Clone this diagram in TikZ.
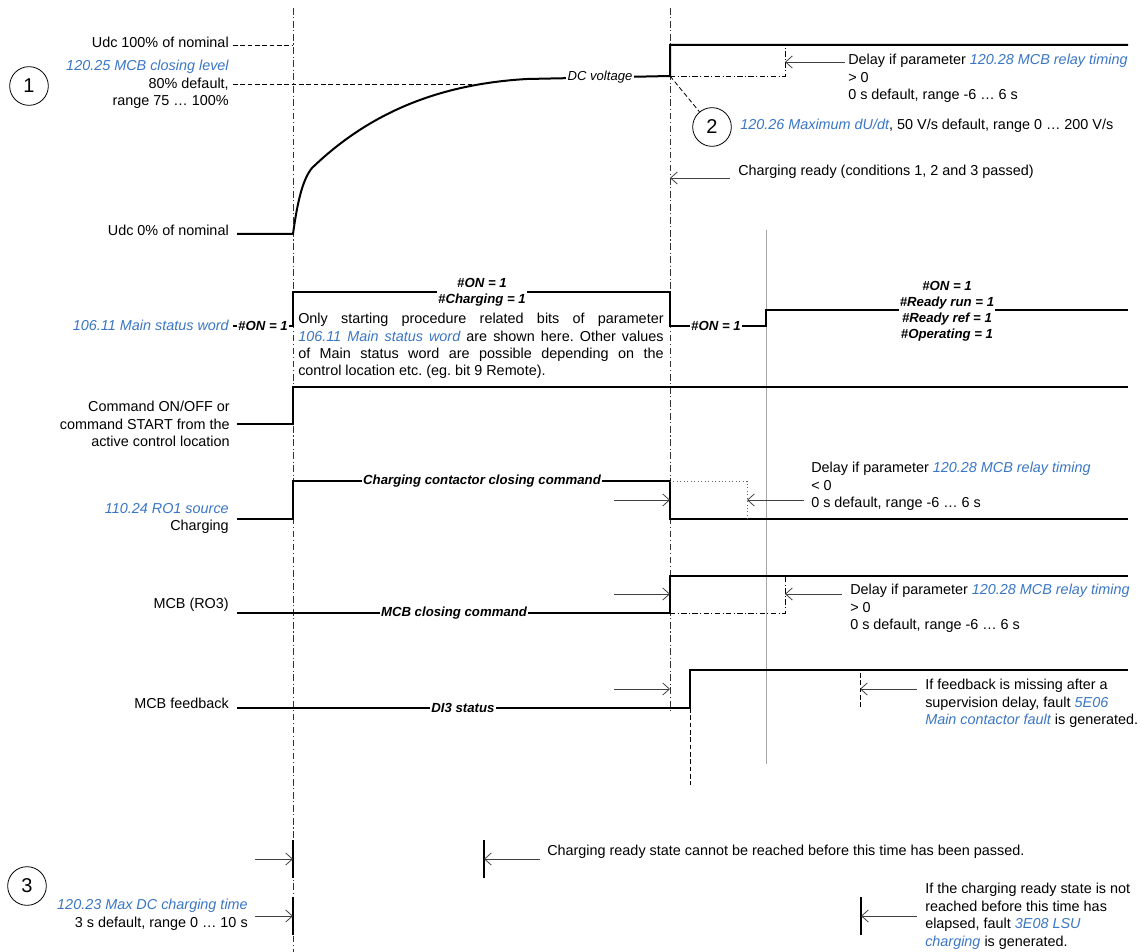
\documentclass[tikz,border=0pt]{standalone}
\usepackage{fontspec}
\setmainfont{Liberation Sans}
\usetikzlibrary{arrows.meta}
\definecolor{pblue}{RGB}{58,118,196}
\newcommand{\pb}[1]{\textcolor{pblue}{\itshape #1}}
\frenchspacing
\begin{document}
\begin{tikzpicture}[x=0.75pt,y=-0.75pt,
 txt/.style={font=\fontsize{10.8}{13.1}\selectfont, inner sep=0pt},
 lbl/.style={txt, align=right},
 bil/.style={font=\fontsize{9.9}{12}\selectfont\bfseries\itshape, fill=white, inner sep=1pt, align=center},
 bilnf/.style={font=\fontsize{9.9}{12}\selectfont\bfseries\itshape, inner sep=0pt},
 sig/.style={line width=1.5pt},
 vline/.style={line width=0.5pt, black!80, dash pattern=on 5pt off 2pt on 0.8pt off 2pt},
 dashline/.style={line width=0.6pt, dash pattern=on 3.5pt off 2pt},
 ddot/.style={line width=0.6pt, dash pattern=on 4pt off 1.8pt on 0.8pt off 1.8pt},
 arr/.style={line width=0.6pt, black!75, -{Straight Barb[length=5pt,width=9pt]}},
 tickl/.style={line width=0.9pt},
 num/.style={circle, draw, line width=0.6pt, minimum size=29pt, inner sep=0pt, font=\fontsize{15}{18}\selectfont}]
\useasboundingbox (0,0) rectangle (1141,952);
% reference lines
\coordinate (v1t) at (293,8); \coordinate (v1b) at (293,952);
\coordinate (v2t) at (670,8); \coordinate (v2b) at (670,710);
\draw[vline] (v1t) -- (v1b);
\draw[vline] (v2t) -- (v2b);
\coordinate (g1) at (766,230); \coordinate (g2) at (766,764);
\draw[black!35, line width=0.5pt] (g1) -- (g2);
\coordinate (f1) at (690,708); \coordinate (f2) at (690,785);
\draw[dashline] (f1) -- (f2);
% DC voltage
\node[txt, anchor=east] (u100) at (229,42) {Udc 100\% of nominal};
\draw[dashline] (233,45) -- (293,45);
\node[lbl, anchor=north east] (mcbl) at (229,60) {\pb{120.25 MCB closing level}\\80\% default,\\range 75 … 100\%};
\draw[dashline] (233,84) -- (477,84);
\node[num] (n1) at (29,86) {1};
\node[txt, anchor=east] (u0) at (229,230) {Udc 0\% of nominal};
\draw[sig] (237,234) -- (293,234) .. controls (297,205) and (302,180) .. (312,168) .. controls (370,112) and (440,84) .. (527,79) -- (670,76) -- (670,45) -- (1128,45);
\node[font=\fontsize{9.8}{12}\selectfont\itshape, fill=white, inner sep=1pt] (dcv) at (600,77) {DC voltage};
\draw[ddot] (670,76) -- (785,76) -- (785,45);
\draw[arr] (845,62) -- (785,62);
\node[txt, anchor=north west, align=left] (d1) at (848,54) {Delay if parameter \pb{120.28 MCB relay timing}\\> 0\\0 s default, range -6 … 6 s};
\node[num] (n2) at (712,127) {2};
\coordinate (dc) at (670,76);
\draw[dashline] (dc) -- (n2);
\node[txt, anchor=west] (dudt) at (740,126) {\pb{120.26 Maximum dU/dt}, 50 V/s default, range 0 … 200 V/s};
\draw[arr] (730,178) -- (670,178);
\node[txt, anchor=west] (cr) at (738,172) {Charging ready (conditions 1, 2 and 3 passed)};
% Main status word
\node[txt, anchor=east] (msw) at (229,325) {\pb{106.11 Main status word}};
\draw[sig] (233,326) -- (293,326) -- (293,292) -- (437,292);
\draw[sig] (527,292) -- (670,292) -- (670,326) -- (766,326) -- (766,310) -- (1128,310);
\node[bil] (on0) at (263,326) {\#ON = 1};
\node[bilnf] (onc1) at (482,283) {\#ON = 1};
\node[bilnf] (onc2) at (482,300) {\#Charging = 1};
\node[txt, font=\fontsize{10.8}{13}\selectfont, anchor=north west, text width=274pt, align=justify] (note) at (298,313) {Only starting procedure related bits of parameter\linebreak \pb{106.11 Main status word} are shown here. Other values\linebreak of Main status word are possible depending on the\linebreak control location etc. (eg. bit 9 Remote).};
\node[bil] (on1) at (716,326) {\#ON = 1};
\node[bil] (onr) at (947,311) {\#ON = 1\\\#Ready run = 1\\\#Ready ref = 1\\\#Operating = 1};
% Command
\node[lbl, anchor=north east] (cmd) at (230,401) {Command ON/OFF or\\command START from the\\active control location};
\draw[sig] (237,424) -- (293,424) -- (293,387) -- (1128,387);
% Charging RO1
\node[lbl, anchor=north east] (ro1) at (229,503) {\pb{110.24 RO1 source}\\Charging};
\draw[sig] (237,519) -- (293,519) -- (293,481) -- (670,481) -- (670,519) -- (1128,519);
\node[bil] (ccc) at (482,481) {Charging contactor closing command};
\draw[black!60, line width=0.6pt, dotted] (670,481) -- (747,481) -- (747,519);
\draw[arr] (614,500) -- (670,500);
\draw[arr] (804,500) -- (747,500);
\node[txt, anchor=north west, align=left] (d2) at (811,462) {Delay if parameter \pb{120.28 MCB relay timing}\\< 0\\0 s default, range -6 … 6 s};
% MCB
\node[txt, anchor=east] (mcb) at (229,605) {MCB (RO3)};
\draw[sig] (237,613) -- (670,613) -- (670,576) -- (1128,576);
\node[bil] (mcc) at (454,613) {MCB closing command};
\draw[ddot] (670,613) -- (785,613) -- (785,576);
\draw[arr] (614,594) -- (670,594);
\draw[arr] (842,594) -- (785,594);
\node[txt, anchor=north west, align=left] (d3) at (850,584) {Delay if parameter \pb{120.28 MCB relay timing}\\> 0\\0 s default, range -6 … 6 s};
% MCB feedback
\node[txt, anchor=east] (fb) at (229,703) {MCB feedback};
\draw[sig] (237,708) -- (690,708) -- (690,670) -- (1128,670);
\node[bil] (di3) at (463,708) {DI3 status};
\draw[arr] (614,689) -- (670,689);
\draw[dashline] (860,673) -- (860,708);
\draw[arr] (917,689) -- (860,689);
\node[txt, anchor=north west, align=left] (d4) at (925,679) {If feedback is missing after a\\supervision delay, fault \pb{5E06}\\\pb{Main contactor fault} is generated.};
% bottom
\draw[tickl] (293,840) -- (293,878);
\draw[arr] (255,859) -- (293,859);
\draw[tickl] (293,897) -- (293,935);
\draw[arr] (255,916) -- (293,916);
\draw[tickl] (484,840) -- (484,878);
\draw[arr] (540,859) -- (484,859);
\node[txt, anchor=west] (crs) at (547,852) {Charging ready state cannot be reached before this time has been passed.};
\node[num] (n3) at (27,886) {3};
\node[lbl, anchor=north east] (mdc) at (248,899) {\pb{120.23 Max DC charging time}\\3 s default, range 0 … 10 s};
\draw[tickl] (861,897) -- (861,935);
\draw[arr] (917,916) -- (861,916);
\node[txt, anchor=north west, align=left] (lsu) at (925,883) {If the charging ready state is not\\reached before this time has\\elapsed, fault \pb{3E08 LSU}\\\pb{charging} is generated.};
\end{tikzpicture}
\end{document}
